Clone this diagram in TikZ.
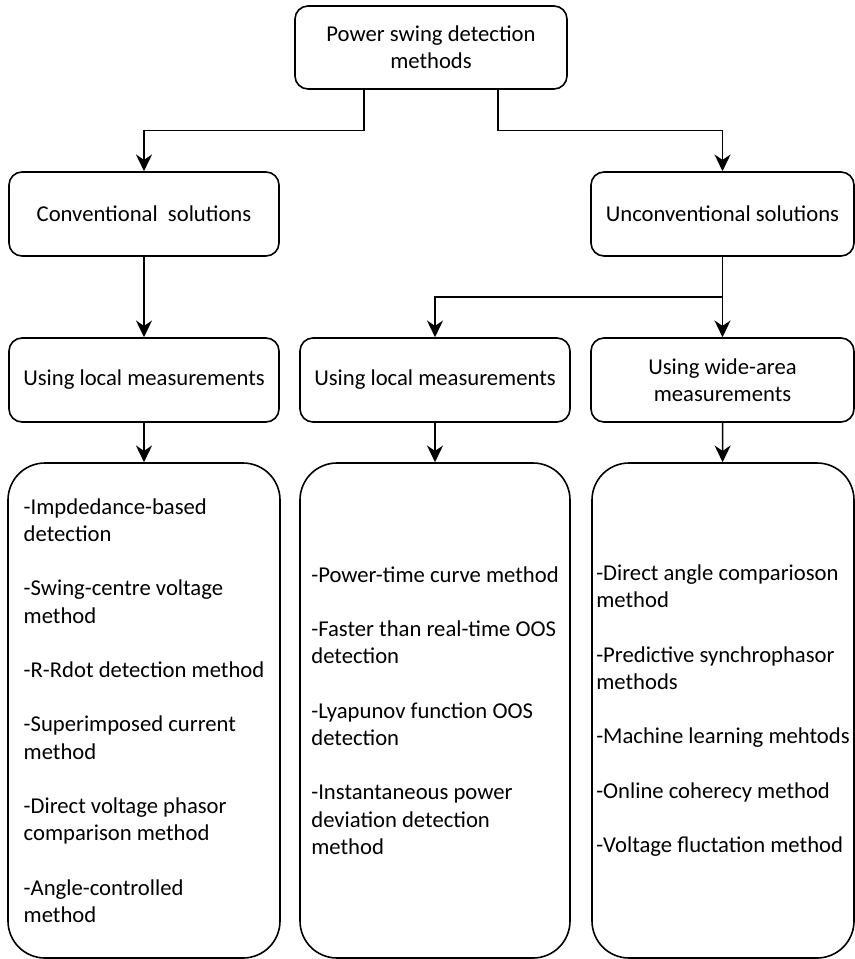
\documentclass[tikz,border=0pt]{standalone}
\usepackage{fontspec}
\setmainfont{Carlito}
\usepackage{tikz}
\usetikzlibrary{positioning,calc,arrows.meta}

\begin{document}
\begin{tikzpicture}[x=0.75pt,y=-0.75pt,
  box/.style={draw, line width=1.2pt, rounded corners=9.75pt, align=center,
    font=\fontsize{17}{20.4}\selectfont, inner sep=0pt, minimum height=63pt},
  listbox/.style={draw, line width=1.2pt, rounded corners=27.75pt, align=left,
    font=\fontsize{17}{20.4}\selectfont, inner sep=0pt, minimum height=371.25pt},
  arrow/.style={line width=1.2pt, -{Stealth[length=12.5pt,width=12pt,inset=4pt]}}]
\useasboundingbox (0,0) rectangle (855,959);

% Root
\node[box, minimum width=204pt, minimum height=62.25pt] (root) at (431,47.5) {Power swing detection\\methods};

% Solution types
\node[box, minimum width=202.5pt] (conv) at (144,214) {Conventional\ \ solutions};
\node[box, minimum width=197.25pt] (unconv) at (722.5,214) {Unconventional solutions};

% Measurement types
\node[box, minimum width=202.5pt] (convlocal) at (144,380) {Using local measurements};
\node[box, minimum width=202.5pt] (unclocal) at (435,380) {Using local measurements};
\node[box, minimum width=197.25pt] (uncwide) at (722.5,380) {Using wide-area\\measurements};

% Method lists
\node[listbox, minimum width=204pt] (convlist) at (144,710.5) {-Impdedance-based\\detection\\[20.4pt]-Swing-centre voltage\\method\\[20.4pt]-R-Rdot detection method\\[20.4pt]-Superimposed current\\method\\[20.4pt]-Direct voltage phasor\\comparison method\\[20.4pt]-Angle-controlled\\method};
\node[listbox, minimum width=202.5pt] (locallist) at (435,710.5) {-Power-time curve method\\[20.4pt]-Faster than real-time OOS\\detection\\[20.4pt]-Lyapunov function OOS\\detection\\[20.4pt]-Instantaneous power\\deviation detection\\method};
\node[listbox, minimum width=196.5pt] (widelist) at (723,710.5) {-Direct angle comparioson\\method\\[20.4pt]-Predictive synchrophasor\\methods\\[20.4pt]-Machine learning mehtods\\[20.4pt]-Online coherecy method\\[20.4pt]-Voltage fluctation method};

% Connectors
\draw[arrow] ([xshift=-50.25pt]root.south) |- ($(root.south)!.5!(conv.north)$) -| (conv.north);
\draw[arrow] ([xshift=50.25pt]root.south) |- ($(root.south)!.5!(unconv.north)$) -| (unconv.north);
\draw[arrow] (conv) -- (convlocal);
\draw[arrow] (unconv) -- (uncwide);
\draw[arrow] ($(unconv.south)!.5!(uncwide.north)$) -| (unclocal.north);
\draw[arrow] (convlocal) -- (convlist);
\draw[arrow] (unclocal) -- (locallist);
\draw[arrow] (uncwide) -- (widelist);

\end{tikzpicture}
\end{document}
